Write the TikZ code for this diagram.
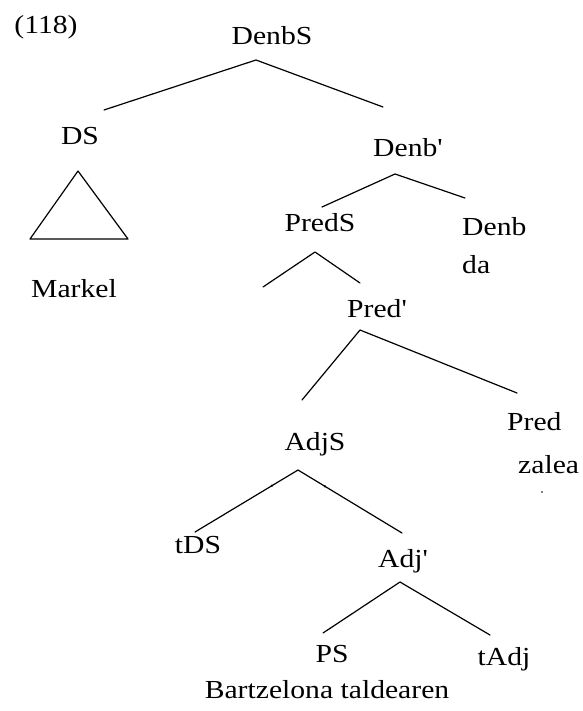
\documentclass[tikz,border=0pt]{standalone}
\usepackage{fontspec}
\usepackage{graphicx}
\setmainfont{Liberation Serif}[Ligatures=TeXOff]
\newcommand{\tx}[1]{\scalebox{1.14}[1]{#1}}
\begin{document}
\begin{tikzpicture}[x=1pt,y=-1pt,
  lab/.style={inner sep=0pt,anchor=base,font=\fontsize{26}{28}\selectfont},
  labl/.style={inner sep=0pt,anchor=base west,font=\fontsize{26}{28}\selectfont},
  branch/.style={line width=1.2pt,line cap=round,line join=round}]
\useasboundingbox[fill=white] (0,0) rectangle (582,711);
% labels
\node[lab] (num) at (46,34) {\tx{(118)}};
\node[lab] (denbs) at (272,45) {\tx{DenbS}};
\node[lab] (ds) at (80,145) {\tx{DS}};
\node[lab] (markel) at (74,297) {\tx{Markel}};
\node[lab] (denbbar) at (408,157) {\tx{Denb'}};
\node[lab] (preds) at (320,232) {\tx{PredS}};
\node[labl] (denb) at (462,235) {\tx{Denb}};
\node[labl] (da) at (462,273) {\tx{da}};
\node[lab] (predbar) at (377,317) {\tx{Pred'}};
\node[labl] (pred) at (507,430) {\tx{Pred}};
\node[labl] (zalea) at (518,473) {\tx{zalea}};
\node[lab] (adjs) at (315,450) {\tx{AdjS}};
\node[lab] (tds) at (198,553) {\tx{tDS}};
\node[lab] (adjbar) at (403,567) {\tx{Adj'}};
\node[lab] (ps) at (332,662) {\tx{PS}};
\node[lab] (tadj) at (504,665) {\tx{tAdj}};
\node[lab] (bartz) at (327,698) {\tx{Bartzelona taldearen}};
% branch end points
\coordinate (a1) at (256,60);
\coordinate (a1l) at (104,110);
\coordinate (a1r) at (383,107);
\coordinate (a2) at (395,174);
\coordinate (a2l) at (322,207);
\coordinate (a2r) at (465,198);
\coordinate (a3) at (315,252);
\coordinate (a3l) at (263,287);
\coordinate (a3r) at (360,283);
\coordinate (a4) at (360,330);
\coordinate (a4l) at (302,400);
\coordinate (a4r) at (517,393);
\coordinate (a5) at (298,470);
\coordinate (a5l) at (195,532);
\coordinate (a5r) at (402,533);
\coordinate (a6) at (400,582);
\coordinate (a6l) at (323,633);
\coordinate (a6r) at (490,635);
\coordinate (t1) at (78,171);
\coordinate (t2) at (30,239);
\coordinate (t3) at (128,239);
% branches
\draw[branch] (a1l) -- (a1) -- (a1r);
\draw[branch] (a2l) -- (a2) -- (a2r);
\draw[branch] (a3l) -- (a3) -- (a3r);
\draw[branch] (a4l) -- (a4) -- (a4r);
\draw[branch] (a5l) -- (a5) -- (a5r);
\draw[branch] (a6l) -- (a6) -- (a6r);
\draw[branch] (t1) -- (t2) -- (t3) -- cycle;
% small specks
\fill (542,492) circle (0.9);
\fill (272,485.6) circle (1.3);
\fill (325,486.4) circle (1.3);
\end{tikzpicture}
\end{document}
